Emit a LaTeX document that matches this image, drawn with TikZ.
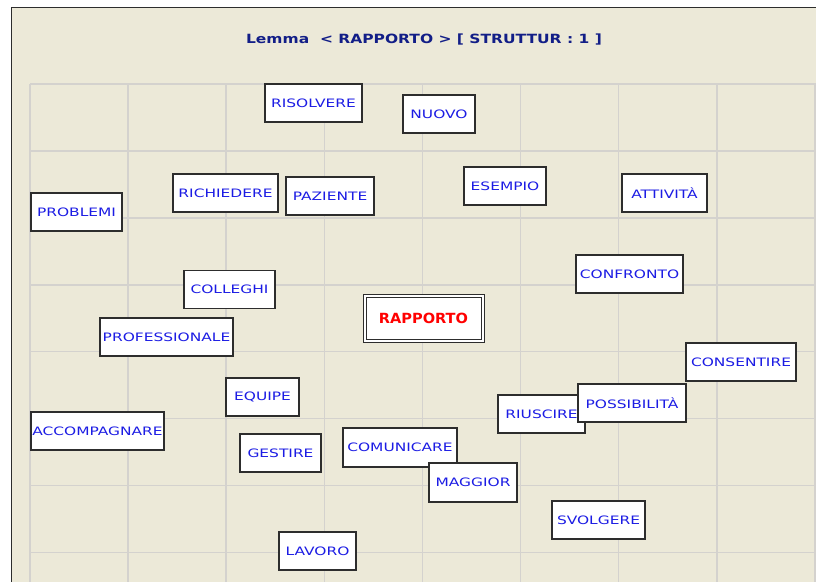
\documentclass[tikz,border=0pt]{standalone}
\usepackage{fontspec}
\usepackage{tikz}
\usetikzlibrary{positioning}

\newfontfamily\boxfont[FakeStretch=1.33]{DejaVu Sans}
\newfontfamily\headfont[FakeStretch=1.22]{DejaVu Sans}
\newfontfamily\keyfont[FakeStretch=1.04]{DejaVu Sans}

\definecolor{panelbg}{RGB}{236,233,216}
\definecolor{gridline}{RGB}{212,210,206}
\definecolor{boxline}{RGB}{45,45,45}
\definecolor{wordblue}{RGB}{28,28,228}
\definecolor{headblue}{RGB}{18,30,135}

\tikzset{
  word/.style={draw=boxline, fill=white, line width=1.3pt, inner sep=0pt,
    minimum height=38pt, text=wordblue, font=\boxfont\fontsize{11.6}{13}\selectfont},
  keyword/.style={draw=boxline, double=white, double distance=2pt, line width=1pt,
    fill=white, inner sep=0pt, minimum width=118pt, minimum height=45pt,
    text=red, font=\keyfont\bfseries\fontsize{14}{16}\selectfont}
}

\begin{document}
\begin{tikzpicture}[x=1pt,y=-1pt]
\useasboundingbox (0,0) rectangle (816,581);
\clip (0,0) rectangle (816,581);
\fill[white] (0,0) rectangle (816,581);
\draw[boxline, line width=1.5pt, fill=panelbg] (11.5,7.5) rectangle (840,600);

\foreach \gx in {0,...,8}
  \draw[gridline, line width=1.6pt] (30+98.1*\gx,84) -- (30+98.1*\gx,600);
\foreach \gy in {0,...,7}
  \draw[gridline, line width=1.6pt] (30,84+66.9*\gy) -- (840,84+66.9*\gy);

\node[text=headblue, font=\headfont\bfseries\fontsize{12.7}{15}\selectfont] (title) at (424,40)
  {Lemma\ \ <\ RAPPORTO\ >\ [\ STRUTTUR\ :\ 1\ ]};

\node[word, minimum width=97pt] (risolvere) at (313.5,103) {RISOLVERE};
\node[word, minimum width=72pt] (nuovo) at (439,114) {NUOVO};
\node[word, minimum width=105pt] (richiedere) at (225.5,193) {RICHIEDERE};
\node[word, minimum width=88pt] (paziente) at (330,196) {PAZIENTE};
\node[word, minimum width=91pt] (problemi) at (76.5,212) {PROBLEMI};
\node[word, minimum width=82pt] (esempio) at (505,186) {ESEMPIO};
\node[word, minimum width=85pt] (attivita) at (664.5,193) {ATTIVITÀ};
\node[word, minimum width=107pt] (confronto) at (629.5,274) {CONFRONTO};
\node[word, minimum width=91pt] (colleghi) at (229.5,289.5) {COLLEGHI};
\node[word, minimum width=133pt] (professionale) at (166.5,337) {PROFESSIONALE};
\node[keyword] (rapporto) at (423.5,318) {RAPPORTO};
\node[word, minimum width=73pt] (equipe) at (262.5,397) {EQUIPE};
\node[word, minimum width=133pt] (accompagnare) at (97.5,431) {ACCOMPAGNARE};
\node[word, minimum width=81pt] (gestire) at (280.5,453) {GESTIRE};
\node[word, minimum width=114pt, minimum height=39pt] (comunicare) at (400,447.5) {COMUNICARE};
\node[word, minimum width=88pt, minimum height=39pt] (maggior) at (473,482.5) {MAGGIOR};
\node[word, minimum width=93pt] (svolgere) at (598.5,520) {SVOLGERE};
\node[word, minimum width=77pt] (lavoro) at (317.5,551) {LAVORO};
\node[word, minimum width=110pt] (consentire) at (741,362) {CONSENTIRE};
\node[word, minimum width=87pt] (riuscire) at (541.5,414) {RIUSCIRE};
\node[word, minimum width=108pt] (possibilita) at (632,403) {POSSIBILITÀ};
\end{tikzpicture}
\end{document}
